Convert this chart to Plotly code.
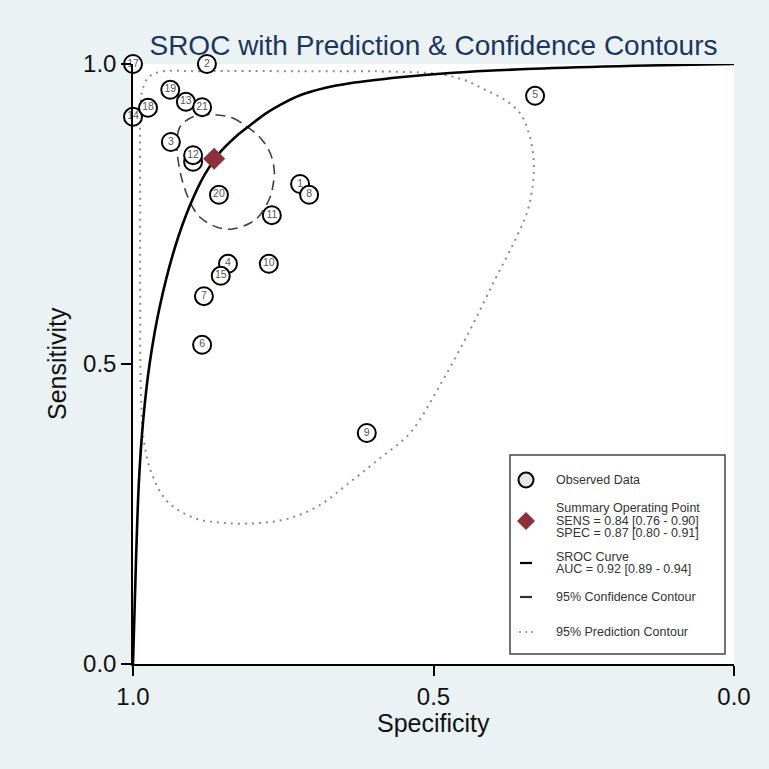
import plotly.graph_objects as go

# ---------------- data ----------------
study_id = [1, 2, 3, 4, 5, 6, 7, 8, 9, 10, 11, 16, 12, 13, 14, 15, 17, 18, 19, 20, 21]
study_spec = [0.722, 0.877, 0.937, 0.842, 0.331, 0.885, 0.882, 0.707, 0.611, 0.774, 0.769,
              0.900, 0.900, 0.912, 1.000, 0.854, 1.000, 0.975, 0.938, 0.857, 0.885]
study_sens = [0.800, 1.000, 0.870, 0.667, 0.947, 0.532, 0.613, 0.782, 0.385, 0.667, 0.748,
              0.837, 0.848, 0.937, 0.912, 0.647, 1.000, 0.927, 0.957, 0.782, 0.928]

summary_spec = [0.865]
summary_sens = [0.842]

sroc_spec = [1.000, 0.995, 0.990, 0.983, 0.972, 0.955, 0.930, 0.905, 0.880, 0.855, 0.830,
             0.805, 0.780, 0.755, 0.722, 0.681, 0.639, 0.556, 0.473, 0.334, 0.166, 0.000]
sroc_sens = [0.000, 0.173, 0.307, 0.407, 0.503, 0.598, 0.695, 0.765, 0.817, 0.853, 0.878,
             0.898, 0.917, 0.932, 0.948, 0.960, 0.968, 0.978, 0.985, 0.992, 0.997, 1.000]

conf_spec = [0.860, 0.834, 0.810, 0.789, 0.772, 0.765, 0.767, 0.772, 0.789, 0.805,
             0.834, 0.860, 0.889, 0.905, 0.917, 0.925, 0.927, 0.922, 0.908, 0.889, 0.860]
conf_sens = [0.915, 0.910, 0.895, 0.878, 0.852, 0.823, 0.798, 0.778, 0.748, 0.735,
             0.725, 0.728, 0.745, 0.770, 0.802, 0.840, 0.870, 0.895, 0.908, 0.915, 0.915]

pred_spec = [0.955, 0.889, 0.722, 0.556, 0.489, 0.448, 0.414, 0.381, 0.356, 0.343,
             0.334, 0.334, 0.343, 0.364, 0.398, 0.439, 0.489, 0.539, 0.589, 0.639,
             0.689, 0.739, 0.789, 0.847, 0.897, 0.942, 0.968, 0.982, 0.987, 0.988,
             0.988, 0.988, 0.985, 0.975, 0.955]
pred_sens = [0.987, 0.988, 0.988, 0.987, 0.983, 0.973, 0.957, 0.940, 0.918, 0.890,
             0.848, 0.807, 0.757, 0.707, 0.640, 0.557, 0.465, 0.385, 0.343, 0.303,
             0.265, 0.243, 0.235, 0.235, 0.243, 0.270, 0.315, 0.373, 0.457, 0.607,
             0.773, 0.907, 0.953, 0.977, 0.987]

axis_ticks = [1.0, 0.5, 0.0]
axis_ticktext = ["1.0", "0.5", "0.0"]

title_text = "SROC with Prediction & Confidence Contours"
legend_lines = [
    ["Observed Data"],
    ["Summary Operating Point", "SENS = 0.84 [0.76 - 0.90]", "SPEC = 0.87 [0.80 - 0.91]"],
    ["SROC Curve", "AUC = 0.92 [0.89 - 0.94]"],
    ["95% Confidence Contour"],
    ["95% Prediction Contour"],
]

# ---------------- figure ----------------
FONT = "Liberation Sans, Arial, sans-serif"
BG = "#EAF2F4"
W, H = 769, 769
L, R, T, B = 133, 35, 64, 105
PW, PH = W - L - R, H - T - B


def px2paper(px, py):
    return (px - L) / PW, (H - B - py) / PH


fig = go.Figure()

fig.add_trace(go.Scatter(x=pred_spec, y=pred_sens, mode="lines",
                         line=dict(color="#8c8c8c", width=2, dash="2px,5px", shape="spline", smoothing=1.0),
                         hoverinfo="skip", showlegend=False))
fig.add_trace(go.Scatter(x=conf_spec, y=conf_sens, mode="lines",
                         line=dict(color="#404040", width=1.6, dash="10px,6px", shape="spline", smoothing=1.0),
                         hoverinfo="skip", showlegend=False))
fig.add_trace(go.Scatter(x=sroc_spec, y=sroc_sens, mode="lines",
                         line=dict(color="black", width=2.6, shape="spline", smoothing=1.0),
                         hoverinfo="skip", showlegend=False, cliponaxis=False))

for sid, sx, sy in zip(study_id, study_spec, study_sens):
    fig.add_trace(go.Scatter(x=[sx], y=[sy], mode="markers+text", text=[str(sid)],
                             textposition="middle center",
                             textfont=dict(family=FONT, size=10.5, color="#555555"),
                             marker=dict(symbol="circle", size=18, color="white",
                                         line=dict(color="black", width=2)),
                             cliponaxis=False, showlegend=False))

fig.add_trace(go.Scatter(x=summary_spec, y=summary_sens, mode="markers",
                         marker=dict(symbol="diamond", size=17, color="#8E3039",
                                     line=dict(width=0)),
                         showlegend=False))

shapes = []
annotations = []

# legend box
bx0, by0 = px2paper(510, 654)
bx1, by1 = px2paper(725, 455)
shapes.append(dict(type="rect", xref="paper", yref="paper", x0=bx0, y0=by0, x1=bx1, y1=by1,
                   fillcolor="white", line=dict(color="#444444", width=1.5), layer="above"))

sym_x = 526
# circle symbol
cx, cy = px2paper(sym_x, 480)
shapes.append(dict(type="circle", xref="paper", yref="paper", xsizemode="pixel", ysizemode="pixel",
                   xanchor=cx, yanchor=cy, x0=-7.5, x1=7.5, y0=-7.5, y1=7.5,
                   fillcolor="#e6e6e6", line=dict(color="black", width=2), layer="above"))
# diamond symbol
dx, dy = px2paper(sym_x, 521)
shapes.append(dict(type="path", xref="paper", yref="paper", xsizemode="pixel", ysizemode="pixel",
                   xanchor=dx, yanchor=dy, path="M -9 0 L 0 9 L 9 0 L 0 -9 Z",
                   fillcolor="#8E3039", line=dict(width=0), layer="above"))
# solid line symbols
for yy, col in [(563, "black"), (597, "#303030")]:
    lx0, ly = px2paper(sym_x - 6, yy)
    lx1, _ = px2paper(sym_x + 6, yy)
    shapes.append(dict(type="line", xref="paper", yref="paper", x0=lx0, x1=lx1, y0=ly, y1=ly,
                       line=dict(color=col, width=2.2), layer="above"))
# dotted symbol
for off in (-6, 0, 6):
    ox, oy = px2paper(sym_x + off, 632)
    shapes.append(dict(type="circle", xref="paper", yref="paper", xsizemode="pixel", ysizemode="pixel",
                       xanchor=ox, yanchor=oy, x0=-1, x1=1, y0=-1, y1=1,
                       fillcolor="#888888", line=dict(width=0), layer="above"))

legend_y = [[480], [508, 520.5, 533], [556.5, 569], [597], [632]]
for lines, ys in zip(legend_lines, legend_y):
    for txt, yy in zip(lines, ys):
        ax, ay = px2paper(554, yy)
        annotations.append(dict(text=txt, xref="paper", yref="paper", x=ax, y=ay,
                                xanchor="left", yanchor="middle", showarrow=False,
                                font=dict(family=FONT, size=12.5, color="#333333")))

# axis titles
tx, ty = px2paper(433.5, 723)
annotations.append(dict(text="Specificity", xref="paper", yref="paper", x=tx, y=ty,
                        xanchor="center", yanchor="middle", showarrow=False,
                        font=dict(family=FONT, size=25, color="#111111")))
sx_, sy_ = px2paper(57, 364)
annotations.append(dict(text="Sensitivity", xref="paper", yref="paper", x=sx_, y=sy_,
                        xanchor="center", yanchor="middle", showarrow=False, textangle=-90,
                        font=dict(family=FONT, size=25, color="#111111")))

axis_common = dict(showgrid=False, zeroline=False, showline=True, linecolor="black", linewidth=1.5,
                   ticks="outside", ticklen=10, tickwidth=1.5, tickcolor="black",
                   tickfont=dict(family=FONT, size=24, color="#111111"),
                   tickvals=axis_ticks, ticktext=axis_ticktext, fixedrange=True)

fig.update_layout(
    width=W, height=H,
    margin=dict(l=L, r=R, t=T, b=B, pad=0),
    paper_bgcolor=BG, plot_bgcolor="white",
    showlegend=False,
    title=dict(text=title_text, x=(433.5 / W), xanchor="center", y=1 - 45 / H, yanchor="middle",
               font=dict(family=FONT, size=28, color="#1E3560")),
    xaxis=dict(range=[1, 0], **axis_common),
    yaxis=dict(range=[0, 1], **axis_common),
    shapes=shapes, annotations=annotations,
)

fig.write_html("out.html")
